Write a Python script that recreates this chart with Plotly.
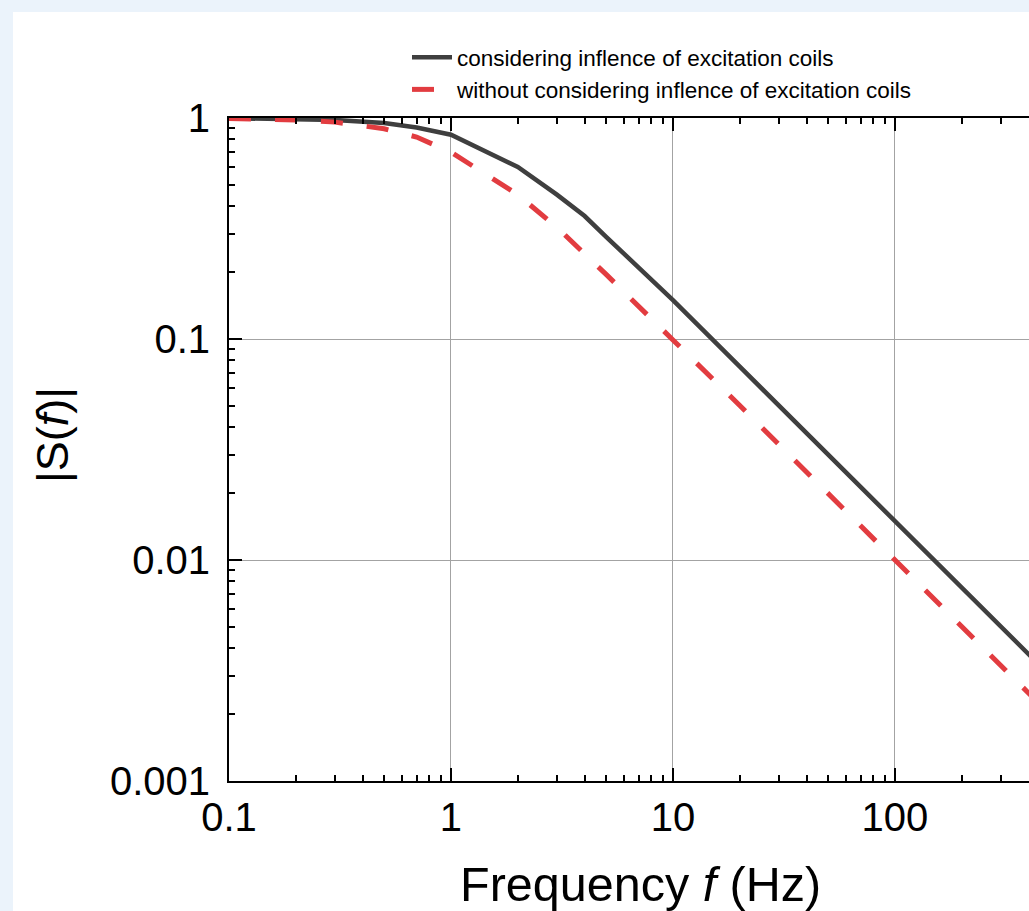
import plotly.graph_objects as go

# Frequency points (Hz)
freq_black = [0.1, 0.2, 0.3, 0.5, 0.7, 1, 2, 3, 4, 5, 7, 10, 20, 50, 100, 200, 500, 1000]
s_black = [0.998, 0.99, 0.98, 0.95, 0.905, 0.84, 0.60, 0.45, 0.36, 0.29, 0.21, 0.15,
           0.075, 0.030, 0.015, 0.0075, 0.003, 0.0015]

freq_red = [0.1, 0.2, 0.3, 0.5, 0.7, 1, 2, 3, 5, 7, 10, 20, 50, 100, 200, 500, 1000]
s_red = [0.995, 0.98, 0.958, 0.894, 0.82, 0.70, 0.45, 0.32, 0.196, 0.14, 0.099,
         0.05, 0.02, 0.01, 0.005, 0.002, 0.001]

x_tickvals = [0.1, 1, 10, 100]
x_ticktext = ["0.1", "1", "10", "100"]
y_tickvals = [0.001, 0.01, 0.1, 1]
y_ticktext = ["0.001", "0.01", "0.1", "1"]

name_black = "considering inflence of excitation coils"
name_red = "without considering inflence of excitation coils"

FONT = "Liberation Sans, Arial, sans-serif"

fig = go.Figure()
fig.add_trace(go.Scatter(x=freq_black, y=s_black, mode="lines", name=name_black,
                         line=dict(color="#3f3f3f", width=4.5)))
fig.add_trace(go.Scatter(x=freq_red, y=s_red, mode="lines", name=name_red,
                         line=dict(color="#e23c40", width=5, dash="22px,24px")))

W, H = 1029, 911
L, R, T, B = 229, 0, 118, 130
pw = W - L - R
ph = H - T - B

def px(xp):
    return (xp - L) / pw

def py(yp):
    return 1 - (yp - T) / ph

axis_common = dict(
    type="log",
    showline=True, linecolor="black", linewidth=2,
    ticks="inside", ticklen=13, tickwidth=2, tickcolor="black",
    showgrid=True, gridcolor="#a3a3a3", gridwidth=1,
    zeroline=False,
    tickfont=dict(family=FONT, size=40, color="black"),
    minor=dict(ticks="inside", ticklen=6, tickwidth=2, tickcolor="black",
               dtick="D1", showgrid=False),
)

fig.update_layout(
    width=W, height=H,
    margin=dict(l=L, r=R, t=T, b=B, pad=0),
    paper_bgcolor="#ebf3fb",
    plot_bgcolor="white",
    showlegend=True,
    legend=dict(x=px(407), y=py(36), xanchor="left", yanchor="top",
                bgcolor="rgba(0,0,0,0)", font=dict(family=FONT, size=22.5, color="black"),
                tracegroupgap=0, itemwidth=40),
    xaxis=dict(axis_common, range=[-1, 2.604], tickvals=x_tickvals, ticktext=x_ticktext,
               mirror="ticks", ticklabelstandoff=0),
    yaxis=dict(axis_common, range=[-3, 0], tickvals=y_tickvals, ticktext=y_ticktext,
               mirror=False, ticklabelstandoff=9),
    shapes=[dict(type="rect", xref="paper", yref="paper", layer="below",
                 x0=px(13), x1=1.2, y0=-0.5, y1=py(12),
                 fillcolor="white", line=dict(width=0))],
    annotations=[
        dict(text="Frequency <i>f</i> (Hz)", xref="paper", yref="paper",
             x=px(640), y=py(884), xanchor="center", yanchor="middle",
             showarrow=False, font=dict(family=FONT, size=48.5, color="black")),
        dict(text="|S(<i>f</i>)|", xref="paper", yref="paper",
             x=px(52), y=py(435), xanchor="center", yanchor="middle", textangle=-90,
             showarrow=False, font=dict(family=FONT, size=45, color="black")),
    ],
)

fig.write_html("out.html", config={"displayModeBar": False},
               post_script="document.body.style.margin='0';document.body.style.overflow='hidden';")
